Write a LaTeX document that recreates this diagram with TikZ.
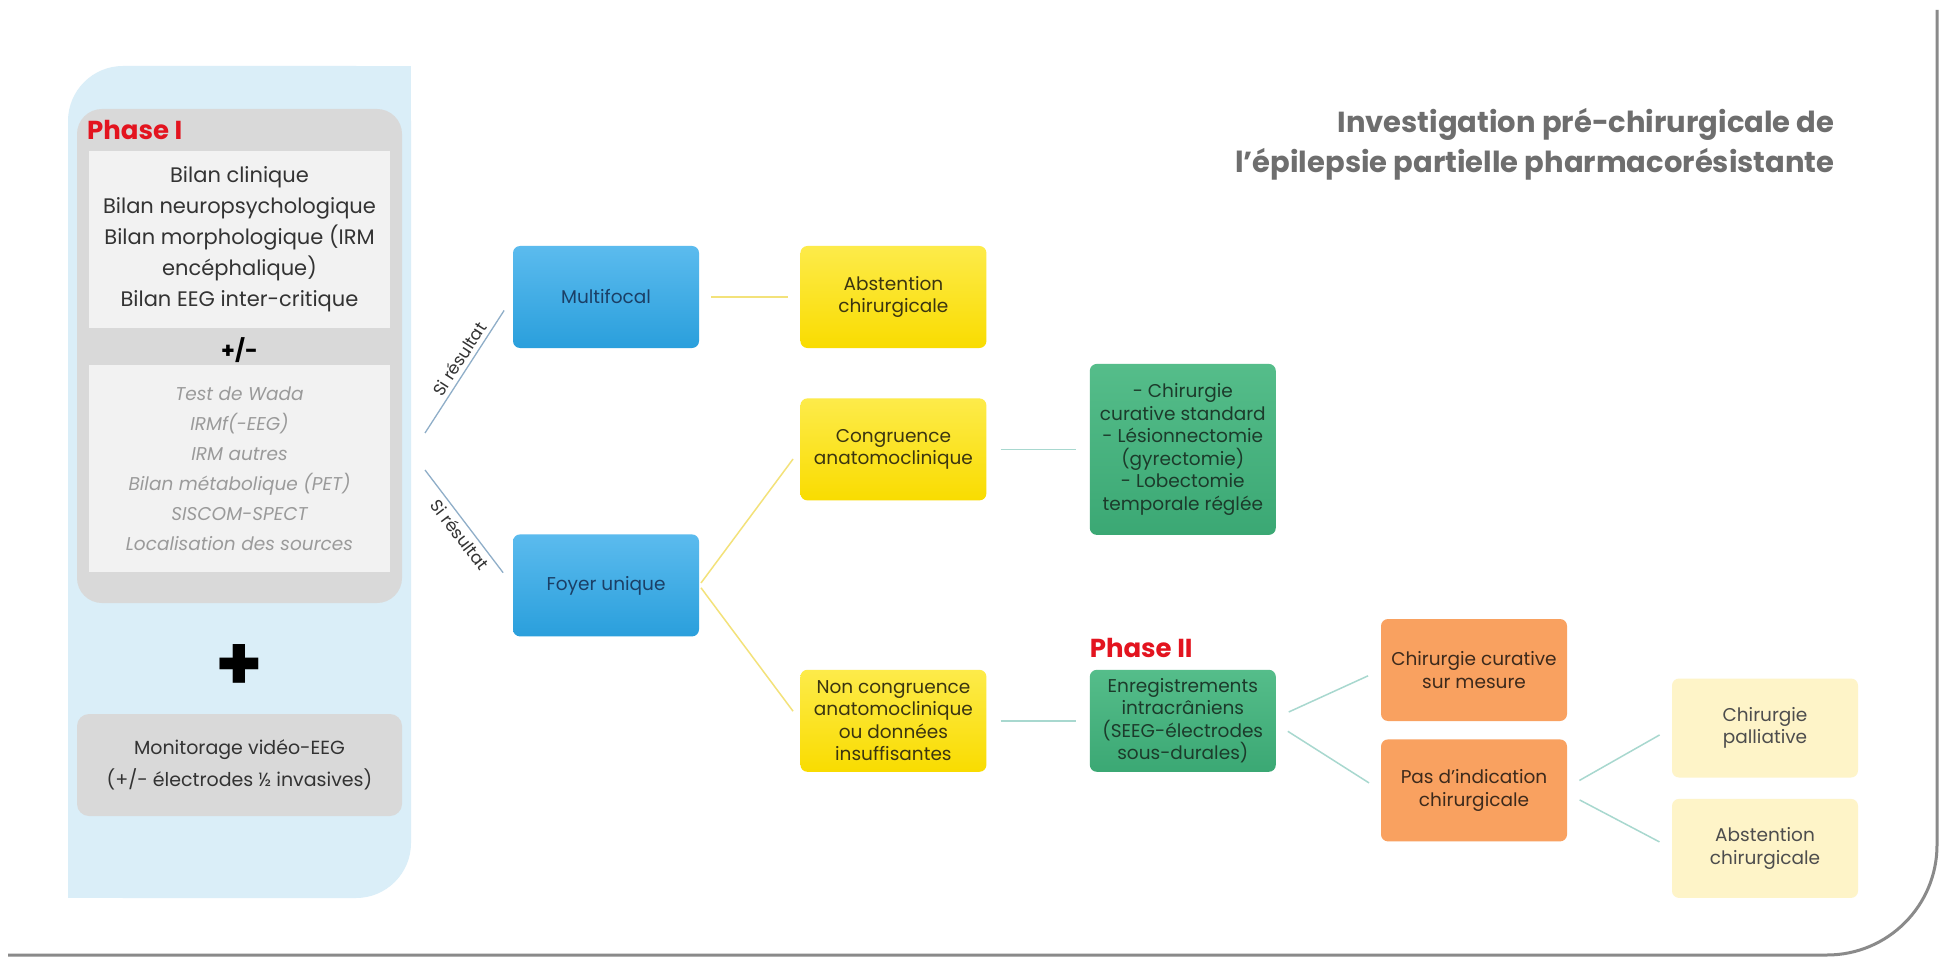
\documentclass[tikz,border=0pt]{standalone}
\usepackage{fontspec}
\setmainfont{Poppins}
\usetikzlibrary{positioning}

\definecolor{panelblue}{HTML}{DAEEF8}
\definecolor{panelgrey}{HTML}{D9D9D9}
\definecolor{listwhite}{HTML}{F2F2F2}
\definecolor{listgrey}{HTML}{9A9A9A}
\definecolor{darktext}{HTML}{333333}
\definecolor{framegrey}{HTML}{8A8A8A}
\definecolor{phasered}{HTML}{E3141F}
\definecolor{titlegrey}{HTML}{6E6E6E}
\definecolor{bluetop}{HTML}{5BBBEE}
\definecolor{bluebot}{HTML}{2A9FDC}
\definecolor{bluetext}{HTML}{1B3F66}
\definecolor{yellowtop}{HTML}{FDEB4A}
\definecolor{yellowbot}{HTML}{F9DC00}
\definecolor{yellowtext}{HTML}{3B3510}
\definecolor{greentop}{HTML}{55BD8A}
\definecolor{greenbot}{HTML}{3BA874}
\definecolor{greentext}{HTML}{1C3B2B}
\definecolor{orangefill}{HTML}{F9A160}
\definecolor{orangetext}{HTML}{3D2A1C}
\definecolor{paleyellow}{HTML}{FEF4C8}
\definecolor{paletext}{HTML}{4D4D4D}
\definecolor{ylinecol}{HTML}{F3E27A}
\definecolor{tlinecol}{HTML}{A8D8CF}
\definecolor{slinecol}{HTML}{8FAEC8}

\begin{document}
\begin{tikzpicture}[
		x=1pt, y=-1pt,
		node distance=50pt and 101pt,
		flowbox/.style={rounded corners=7pt,minimum width=186pt,minimum height=102pt,align=center,inner sep=2pt,font=\fontsize{18.5}{22.5}\selectfont},
		bluebox/.style={flowbox,top color=bluetop,bottom color=bluebot,text=bluetext},
		yellowbox/.style={flowbox,top color=yellowtop,bottom color=yellowbot,text=yellowtext},
		greenbox/.style={flowbox,top color=greentop,bottom color=greenbot,text=greentext},
		orangebox/.style={flowbox,fill=orangefill,text=orangetext},
		palebox/.style={flowbox,fill=paleyellow,text=paletext,minimum height=99pt},
		listbox/.style={fill=listwhite,minimum width=301pt,align=center,text=darktext,font=\fontsize{21}{31}\selectfont},
		phaselbl/.style={text=phasered,inner sep=0pt,font=\bfseries\fontsize{26}{26}\selectfont},
		reslbl/.style={text=darktext,inner sep=4pt,font=\fontsize{17}{17}\selectfont},
		ylink/.style={draw=ylinecol,line width=1.5pt,shorten >=12pt,shorten <=12pt},
		tlink/.style={draw=tlinecol,line width=1.5pt,shorten >=14pt,shorten <=14pt},
		slink/.style={draw=slinecol,line width=1.3pt}
		]
		\fill[white] (0,0) rectangle (1942,957);
		\useasboundingbox (0,0) rectangle (1942,957);
		% outer frame
		\draw[framegrey,line width=3pt,rounded corners=110pt] (1937,10) -- (1937,955) -- (8,955);
		% phase I panel
		\fill[panelblue,rounded corners=55pt] (68,66) rectangle (411,898);
		\fill[panelblue] (300,66) rectangle (411,200);
		\fill[panelblue] (68,780) rectangle (200,898);
		\node[fill=panelgrey,rounded corners=25pt,minimum width=325pt,minimum height=494pt] (phaseone) at (239.5,356) {};
		\node[phaselbl,anchor=west] (phaseonelbl) at (87,130) {Phase I};
		\node[listbox,minimum height=177pt] (bilans) at (239.5,239.5)
		{Bilan clinique\\Bilan neuropsychologique\\Bilan morphologique (IRM\\encéphalique)\\Bilan EEG inter-critique};
		\node[font=\bfseries\fontsize{22}{22}\selectfont] (plusminus) at (239.5,350) {+/-};
		\node[listbox,minimum height=207pt,text=listgrey,font=\itshape\fontsize{18.5}{30}\selectfont] (options) at (239.5,468.5)
		{Test de Wada\\IRMf(-EEG)\\IRM autres\\Bilan métabolique (PET)\\SISCOM-SPECT\\Localisation des sources};
		\node[font=\bfseries\fontsize{76}{76}\selectfont] (plus) at (239.5,668) {+};
		\node[fill=panelgrey,rounded corners=12pt,minimum width=325pt,minimum height=102pt,align=center,text=darktext,font=\fontsize{19}{32}\selectfont] (video) at (239.5,765)
		{Monitorage vidéo-EEG\\(+/- électrodes ½ invasives)};
		% title
		\node[anchor=east,align=right,text=titlegrey,font=\bfseries\fontsize{29}{40}\selectfont] (title) at (1838,144)
		{Investigation pré-chirurgicale de\\l’épilepsie partielle pharmacorésistante};
		% flow
		\node[bluebox] (multi) at (606,297) {Multifocal};
		\node[yellowbox,right=of multi] (abst) {Abstention\\chirurgicale};
		\node[yellowbox,below=of abst] (cong) {Congruence\\anatomoclinique};
		\node[bluebox,below=186pt of multi] (foyer) {Foyer unique};
		\node[yellowbox,below=169pt of cong] (noncong) {Non congruence\\anatomoclinique\\ou données\\insuffisantes};
		\node[greenbox,minimum height=171pt,right=103pt of cong] (standard)
		{- Chirurgie\\curative standard\\- Lésionnectomie\\(gyrectomie)\\- Lobectomie\\temporale réglée};
		\node[greenbox,right=103pt of noncong] (seeg)
		{Enregistrements\\intracrâniens\\(SEEG-électrodes\\sous-durales)};
		\node[phaselbl,anchor=south west,yshift=12pt] (phasetwo) at (seeg.north west) {Phase II};
		\node[orangebox] (custom) at (1474,670) {Chirurgie curative\\sur mesure};
		\node[orangebox,below=18pt of custom] (noind) {Pas d’indication\\chirurgicale};
		\node[palebox] (palli) at (1765,728) {Chirurgie\\palliative};
		\node[palebox,below=21pt of palli] (abstb) {Abstention\\chirurgicale};
		% connectors
		\coordinate (split1) at (425,433);
		\coordinate (split2) at (425,470);
		\draw[slink,shorten >=16pt] (split1) -- node[sloped,above,reslbl] {Si résultat} (multi.west);
		\draw[slink,shorten >=16pt] (split2) -- node[sloped,below,reslbl] {Si résultat} (foyer.west);
		\draw[ylink] (multi) -- (abst);
		\draw[ylink,shorten <=3pt] (foyer.east) -- (cong.west);
		\draw[ylink,shorten <=3pt] (foyer.east) -- (noncong.west);
		\draw[tlink] (cong) -- (standard);
		\draw[tlink] (noncong) -- (seeg);
		\draw[tlink] ([yshift=3pt]seeg.east) -- (custom.west);
		\draw[tlink] ([yshift=-3pt]seeg.east) -- (noind.west);
		\draw[tlink] ([yshift=3pt]noind.east) -- (palli.west);
		\draw[tlink] ([yshift=-3pt]noind.east) -- (abstb.west);
	\end{tikzpicture}
\end{document}
